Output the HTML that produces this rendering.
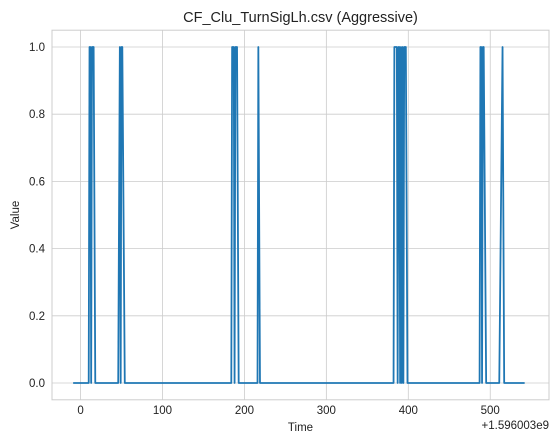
<!DOCTYPE html>
<html><head><meta charset="utf-8"><style>
body{margin:0;background:#fff;}
svg{display:block;font-family:"Liberation Sans",sans-serif;}
</style></head><body>
<svg id="chart" width="557" height="444">
<rect x="0" y="0" width="557" height="444" fill="#fff"/>
<g id="grid"></g>
<g id="series"></g>
<rect x="52" y="30.2" width="497" height="369.6" fill="none" stroke="#cccccc" stroke-width="1"/>
<g id="ticks"></g>
<text x="300.5" y="22" text-anchor="middle" font-size="14.5" fill="#222">CF_Clu_TurnSigLh.csv (Aggressive)</text>
<text x="300.5" y="431" text-anchor="middle" font-size="11.5" fill="#222">Time</text>
<text x="549" y="429" text-anchor="end" font-size="11.5" fill="#222">+1.596003e9</text>
<text transform="translate(19,215) rotate(-90)" text-anchor="middle" font-size="11.5" fill="#222">Value</text>
</svg>
<script>
const times=[-9,10,11,12,13,14,16,18,46,48,49,50,51,54,184,185,187,188,189,191,193,216,217,219,382,383,386,387,388,389,390,391,392,393,394,395,397,399,487,488,489,490,491,492,495,511,515,517,542];
const values=[0,0,1,1,0,1,1,0,0,1,0,1,1,0,0,1,1,0,1,1,0,0,1,0,0,1,1,0,1,1,0,1,0,1,0,1,1,0,0,1,1,0,1,1,0,0,1,0,0];
const xTicks=[0,100,200,300,400,500];
const yTicks=[0,0.2,0.4,0.6,0.8,1.0];
const NS="http://www.w3.org/2000/svg";
const X0=52,X1=549,Y0=30.2,Y1=399.8,xmin=-34.8,xmax=571.7,ymin=-0.05,ymax=1.05;
function sx(t){return X0+(t-xmin)/(xmax-xmin)*(X1-X0);}
function sy(v){return Y1-(v-ymin)/(ymax-ymin)*(Y1-Y0);}
const grid=document.getElementById('grid'),ticks=document.getElementById('ticks'),series=document.getElementById('series');
xTicks.forEach(t=>{
 const l=document.createElementNS(NS,'line');
 l.setAttribute('x1',sx(t));l.setAttribute('x2',sx(t));l.setAttribute('y1',Y0);l.setAttribute('y2',Y1);
 l.setAttribute('stroke','#cccccc');l.setAttribute('stroke-width','0.8');
 
 
 grid.appendChild(l);
 const tx=document.createElementNS(NS,'text');
 tx.setAttribute('x',sx(t));tx.setAttribute('y',414);tx.setAttribute('text-anchor','middle');tx.setAttribute('font-size','11.5');tx.setAttribute('fill','#222');
 tx.textContent=t;
 
 
 ticks.appendChild(tx);
});
yTicks.forEach(v=>{
 const l=document.createElementNS(NS,'line');
 l.setAttribute('x1',X0);l.setAttribute('x2',X1);l.setAttribute('y1',sy(v));l.setAttribute('y2',sy(v));
 l.setAttribute('stroke','#cccccc');l.setAttribute('stroke-width','0.8');
 
 
 grid.appendChild(l);
 const tx=document.createElementNS(NS,'text');
 tx.setAttribute('x',45);tx.setAttribute('y',sy(v)+4);tx.setAttribute('text-anchor','end');tx.setAttribute('font-size','11.5');tx.setAttribute('fill','#222');
 tx.textContent=v.toFixed(1);
 
 
 ticks.appendChild(tx);
});
const p=document.createElementNS(NS,'polyline');
p.setAttribute('points',times.map((t,i)=>sx(t).toFixed(2)+','+sy(values[i]).toFixed(2)).join(' '));
p.setAttribute('fill','none');p.setAttribute('stroke','#1f77b4');p.setAttribute('stroke-width','1.8');p.setAttribute('stroke-linejoin','round');


series.appendChild(p);
</script>
</body></html>
